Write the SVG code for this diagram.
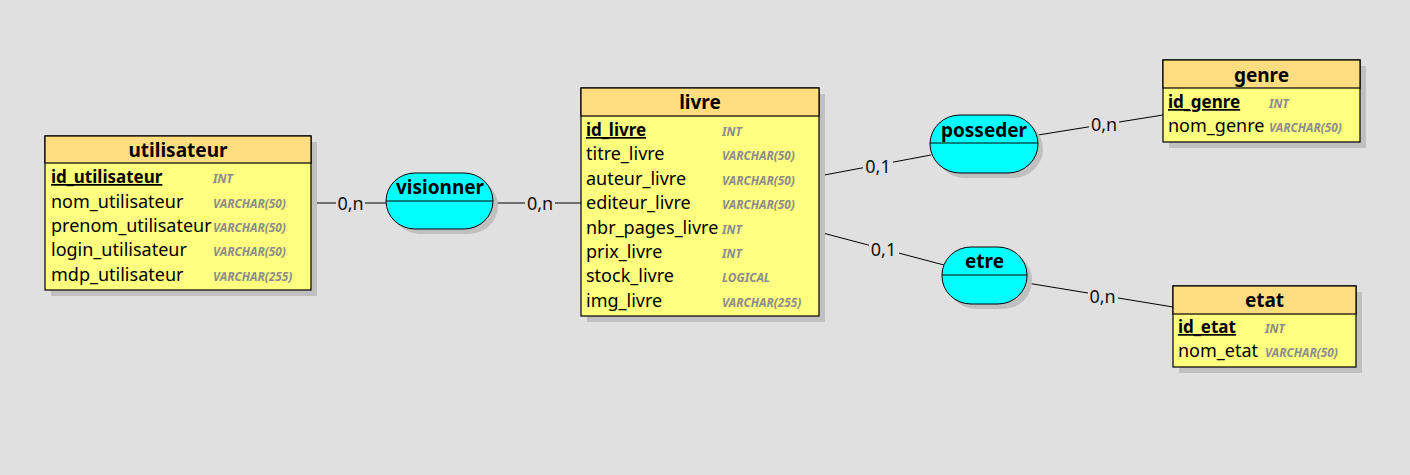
<svg xmlns="http://www.w3.org/2000/svg" width="1410" height="475" viewBox="0 0 1410 475">
<style>
  .bg{fill:#e0e0e0}
  .shadow{fill:#c0c0c0}
  .head{fill:#ffdd80;stroke:#000;stroke-width:1.2}
  .body{fill:#ffff80;stroke:#000;stroke-width:1.2}
  .assoc{fill:#00ffff;stroke:#000;stroke-width:1}
  .sep{stroke:#000;stroke-width:1.2}
  .title{font-family:"Noto Sans","Open Sans",sans-serif;font-weight:bold;font-size:19px;fill:#000;text-anchor:middle}
  .pk{font-family:"Noto Sans","Open Sans",sans-serif;font-weight:bold;font-size:17px;fill:#000;text-decoration:underline}
  .attr{font-family:"Noto Sans","Open Sans",sans-serif;font-size:18px;fill:#000}
  .type{font-family:"Noto Sans","Open Sans",sans-serif;font-weight:bold;font-style:italic;font-size:11.8px;fill:#8c8c8c}
  .card{font-family:"Noto Sans","Open Sans",sans-serif;font-size:18px;fill:#111;text-anchor:middle}
  .cardbg{fill:#e0e0e0}
  .link{stroke:#000;stroke-width:1;fill:none}
</style>
<rect class="bg" x="0" y="0" width="1410" height="475"/>

<g id="connectors">
  <line class="link" x1="311" y1="203" x2="386" y2="203"/>
  <line class="link" x1="493" y1="203" x2="581" y2="203"/>
  <line class="link" x1="819" y1="176" x2="931" y2="155"/>
  <line class="link" x1="1038" y1="135" x2="1163" y2="115"/>
  <line class="link" x1="819" y1="232" x2="944" y2="265"/>
  <line class="link" x1="1027" y1="283" x2="1173" y2="307"/>
  <rect class="cardbg" x="336" y="196" width="29" height="16"/>
  <text class="card" x="350.5" y="210">0,n</text>
  <rect class="cardbg" x="525" y="196" width="30" height="16"/>
  <text class="card" x="540" y="210">0,n</text>
  <rect class="cardbg" x="863" y="159" width="30" height="16"/>
  <text class="card" x="878" y="173">0,1</text>
  <rect class="cardbg" x="1089" y="117" width="30" height="16"/>
  <text class="card" x="1104" y="131">0,n</text>
  <rect class="cardbg" x="869" y="242" width="30" height="16"/>
  <text class="card" x="883.5" y="256">0,1</text>
  <rect class="cardbg" x="1088" y="289" width="30" height="16"/>
  <text class="card" x="1102.5" y="303">0,n</text>
</g>

<g id="utilisateur">
  <rect class="shadow" x="51" y="142" width="266" height="154"/>
  <rect class="body" x="45" y="136" width="266" height="154"/>
  <rect class="head" x="45" y="136" width="266" height="27"/>
  <text class="title" x="178" y="157">utilisateur</text>
  <text class="pk" x="51" y="183">id_utilisateur</text>
  <text class="type" x="213" y="183">INT</text>
  <text class="attr" x="51" y="207.5">nom_utilisateur</text>
  <text class="type" x="213" y="207.5">VARCHAR(50)</text>
  <text class="attr" x="51" y="232">prenom_utilisateur</text>
  <text class="type" x="213" y="232">VARCHAR(50)</text>
  <text class="attr" x="51" y="256">login_utilisateur</text>
  <text class="type" x="213" y="256">VARCHAR(50)</text>
  <text class="attr" x="51" y="280.5">mdp_utilisateur</text>
  <text class="type" x="213" y="280.5">VARCHAR(255)</text>
</g>

<g id="visionner">
  <rect class="shadow" x="391" y="178" width="107" height="56" rx="29" ry="28"/>
  <rect class="assoc" x="386" y="173" width="107" height="56" rx="29" ry="28"/>
  <line class="sep" x1="386" y1="201" x2="493" y2="201"/>
  <text class="title" x="440" y="194">visionner</text>
</g>

<g id="livre">
  <rect class="shadow" x="587" y="94" width="238" height="228"/>
  <rect class="body" x="581" y="88" width="238" height="228"/>
  <rect class="head" x="581" y="88" width="238" height="28"/>
  <text class="title" x="700" y="109">livre</text>
  <text class="pk" x="586" y="136">id_livre</text>
  <text class="type" x="722" y="136">INT</text>
  <text class="attr" x="586" y="160.4">titre_livre</text>
  <text class="type" x="722" y="160.4">VARCHAR(50)</text>
  <text class="attr" x="586" y="184.8">auteur_livre</text>
  <text class="type" x="722" y="184.8">VARCHAR(50)</text>
  <text class="attr" x="586" y="209.2">editeur_livre</text>
  <text class="type" x="722" y="209.2">VARCHAR(50)</text>
  <text class="attr" x="586" y="233.6">nbr_pages_livre</text>
  <text class="type" x="722" y="233.6">INT</text>
  <text class="attr" x="586" y="258">prix_livre</text>
  <text class="type" x="722" y="258">INT</text>
  <text class="attr" x="586" y="282.4">stock_livre</text>
  <text class="type" x="722" y="282.4">LOGICAL</text>
  <text class="attr" x="586" y="306.8">img_livre</text>
  <text class="type" x="722" y="306.8">VARCHAR(255)</text>
</g>

<g id="posseder">
  <rect class="shadow" x="935" y="120" width="108" height="58" rx="30" ry="29"/>
  <rect class="assoc" x="930" y="115" width="108" height="58" rx="30" ry="29"/>
  <line class="sep" x1="930" y1="143" x2="1038" y2="143"/>
  <text class="title" x="984" y="137">posseder</text>
</g>

<g id="etre">
  <rect class="shadow" x="947" y="252" width="85" height="57" rx="29" ry="28"/>
  <rect class="assoc" x="942" y="247" width="85" height="57" rx="29" ry="28"/>
  <line class="sep" x1="942" y1="275" x2="1027" y2="275"/>
  <text class="title" x="984.5" y="268">etre</text>
</g>

<g id="genre">
  <rect class="shadow" x="1169" y="66" width="197" height="82"/>
  <rect class="body" x="1163" y="60" width="197" height="82"/>
  <rect class="head" x="1163" y="60" width="197" height="28"/>
  <text class="title" x="1261.5" y="82">genre</text>
  <text class="pk" x="1168" y="108">id_genre</text>
  <text class="type" x="1269" y="108">INT</text>
  <text class="attr" x="1168" y="132">nom_genre</text>
  <text class="type" x="1269" y="132">VARCHAR(50)</text>
</g>

<g id="etat">
  <rect class="shadow" x="1179" y="292" width="183" height="81"/>
  <rect class="body" x="1173" y="286" width="183" height="81"/>
  <rect class="head" x="1173" y="286" width="183" height="28"/>
  <text class="title" x="1264.5" y="307">etat</text>
  <text class="pk" x="1178" y="333">id_etat</text>
  <text class="type" x="1265" y="333">INT</text>
  <text class="attr" x="1178" y="357">nom_etat</text>
  <text class="type" x="1265" y="357">VARCHAR(50)</text>
</g>
</svg>
